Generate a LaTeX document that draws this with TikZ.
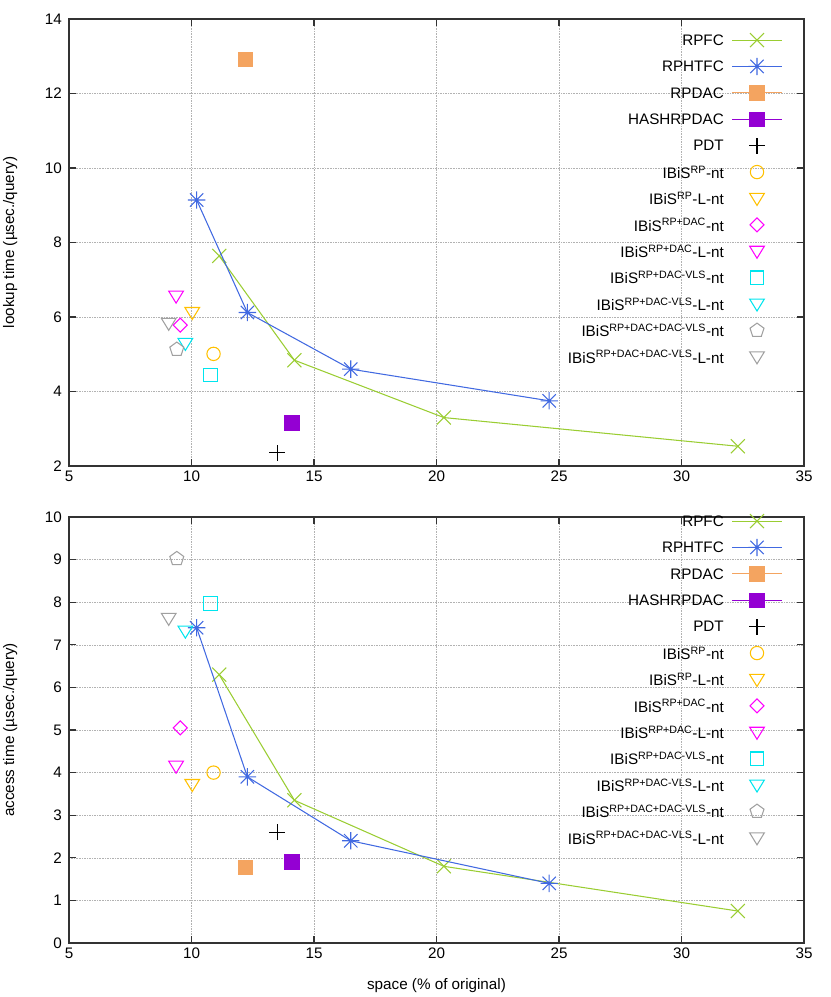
\documentclass[tikz,border=0pt]{standalone}
\usepackage{fontspec}
\setmainfont{Liberation Sans}
\usepackage{xcolor}
\usetikzlibrary{positioning}
\definecolor{cfc}{HTML}{9ACD32}
\definecolor{chtfc}{HTML}{4169E1}
\definecolor{cdac}{HTML}{F4A460}
\definecolor{chash}{HTML}{9400D3}
\definecolor{cgold}{HTML}{FFC000}
\definecolor{cmag}{HTML}{FF00FF}
\definecolor{ccyan}{HTML}{00E5EE}
\definecolor{cgray}{HTML}{A0A0A0}
\newcommand{\ssup}[1]{\textsuperscript{#1}}
%% legend (same in both panels), top y in cm
\newcommand{\keyblock}[1]{%
  \foreach \txt/\mk/\col/\haslin [count=\i] in {
      RPFC/mX/cfc/1, RPHTFC/mAst/chtfc/1, RPDAC/mSq/cdac/1, HASHRPDAC/mSq/chash/1,
      PDT/mPlus/black/0, IBiS\ssup{RP}-nt/mCirc/cgold/0, IBiS\ssup{RP}-L-nt/mTri/cgold/0,
      IBiS\ssup{RP+DAC}-nt/mDia/cmag/0, IBiS\ssup{RP+DAC}-L-nt/mTri/cmag/0,
      IBiS\ssup{RP+DAC-VLS}-nt/mSqO/ccyan/0, IBiS\ssup{RP+DAC-VLS}-L-nt/mTri/ccyan/0,
      IBiS\ssup{RP+DAC+DAC-VLS}-nt/mPent/cgray/0, IBiS\ssup{RP+DAC+DAC-VLS}-L-nt/mTri/cgray/0}{
    \node[anchor=east, inner sep=0pt] at (21.72,#1-0.792*\i) {\txt};
    \ifnum\haslin=1 \draw[\col, series] (21.96,#1-0.792*\i) -- (23.46,#1-0.792*\i); \fi
    \edef\tmpk{\noexpand\pic[\col] at (22.71,#1-0.792*\i) {\mk};}\tmpk
  }}
\begin{document}
\begin{tikzpicture}%
    [font=\fontsize{13}{15}\selectfont,
     grid/.style={gray!60, densely dotted, thin},
     frame/.style={black!80, line width=0.9pt},
     series/.style={line width=0.9pt},
     mX/.pic={\draw[line width=0.9pt] (-.21cm,-.21cm)--(.21cm,.21cm) (-.21cm,.21cm)--(.21cm,-.21cm);},
     mAst/.pic={\draw[line width=0.9pt] (-.2cm,-.2cm)--(.2cm,.2cm) (-.2cm,.2cm)--(.2cm,-.2cm) (-.26cm,0)--(.26cm,0) (0,-.26cm)--(0,.26cm);},
     mSq/.pic={\fill (-.23cm,-.23cm) rectangle (.23cm,.23cm);},
     mPlus/.pic={\draw[line width=0.9pt] (-.24cm,0)--(.24cm,0) (0,-.24cm)--(0,.24cm);},
     mCirc/.pic={\draw[line width=0.9pt] (0,0) circle (.2cm);},
     mTri/.pic={\draw[line width=0.9pt] (-.22cm,.15cm)--(.22cm,.15cm)--(0,-.21cm)--cycle;},
     mDia/.pic={\draw[line width=0.9pt] (-.21cm,0)--(0,.21cm)--(.21cm,0)--(0,-.21cm)--cycle;},
     mSqO/.pic={\draw[line width=0.9pt] (-.2cm,-.2cm) rectangle (.2cm,.2cm);},
     mPent/.pic={\draw[line width=0.9pt] (90:.22cm)--(162:.22cm)--(234:.22cm)--(306:.22cm)--(18:.22cm)--cycle;}]
\useasboundingbox (0,0) rectangle (24.9,29.91);
%% top panel: lookup time
\begin{scope}[shift={(-1.605,13.695)}, x=0.735cm, y=1.1175cm]
  \foreach \xv in {10,15,...,30} \draw[grid] (\xv,2) -- (\xv,14);
  \foreach \yv in {4,6,...,12} \draw[grid] (5,\yv) -- (35,\yv);
  \foreach \xv in {5,10,...,35} {
    \draw[frame] (\xv,2) -- ++(0,0.2cm) (\xv,14) -- ++(0,-0.2cm);
    \node[below=4pt, inner sep=0pt] at (\xv,2) {\xv};}
  \foreach \yv in {2,4,...,14} {
    \draw[frame] (5,\yv) -- ++(0.2cm,0) (35,\yv) -- ++(-0.2cm,0);
    \node[left=6pt, inner sep=0pt] at (5,\yv) {\yv};}
  \draw[frame] (5,2) rectangle (35,14);
  \node[rotate=90] at (2.6,8) {lookup time (µsec./query)};
  % series
  \draw[cfc, series] (11.13,7.64) -- (14.2,4.84) -- (20.3,3.3) -- (32.3,2.53);
  \foreach \p in {(11.13,7.64),(14.2,4.84),(20.3,3.3),(32.3,2.53)} \pic[cfc] at \p {mX};
  \draw[chtfc, series] (10.21,9.14) -- (12.28,6.12) -- (16.5,4.6) -- (24.6,3.75);
  \foreach \p in {(10.21,9.14),(12.28,6.12),(16.5,4.6),(24.6,3.75)} \pic[chtfc] at \p {mAst};
  \pic[cdac] at (12.2,12.92) {mSq};
  \pic[chash] at (14.1,3.15) {mSq};
  \pic[black] at (13.5,2.35) {mPlus};
  \pic[cgold] at (10.9,5.01) {mCirc};
  \pic[cgold] at (10.03,6.12) {mTri};
  \pic[cmag] at (9.54,5.78) {mDia};
  \pic[cmag] at (9.37,6.56) {mTri};
  \pic[ccyan] at (10.77,4.44) {mSqO};
  \pic[ccyan] at (9.75,5.29) {mTri};
  \pic[cgray] at (9.4,5.13) {mPent};
  \pic[cgray] at (9.07,5.83) {mTri};
\end{scope}
\keyblock{29.50}
%% bottom panel: access time
\begin{scope}[shift={(-1.605,1.62)}, x=0.735cm, y=1.278cm]
  \foreach \xv in {10,15,...,30} \draw[grid] (\xv,0) -- (\xv,10);
  \foreach \yv in {1,...,9} \draw[grid] (5,\yv) -- (35,\yv);
  \foreach \xv in {5,10,...,35} {
    \draw[frame] (\xv,0) -- ++(0,0.2cm) (\xv,10) -- ++(0,-0.2cm);
    \node[below=4pt, inner sep=0pt] at (\xv,0) {\xv};}
  \foreach \yv in {0,...,10} {
    \draw[frame] (5,\yv) -- ++(0.2cm,0) (35,\yv) -- ++(-0.2cm,0);
    \node[left=6pt, inner sep=0pt] at (5,\yv) {\yv};}
  \draw[frame] (5,0) rectangle (35,10);
  \node[rotate=90] at (2.6,5) {access time (µsec./query)};
  \node at (20,-1) {space (\% of original)};
  % series
  \draw[cfc, series] (11.13,6.3) -- (14.2,3.35) -- (20.3,1.8) -- (32.3,0.75);
  \foreach \p in {(11.13,6.3),(14.2,3.35),(20.3,1.8),(32.3,0.75)} \pic[cfc] at \p {mX};
  \draw[chtfc, series] (10.21,7.4) -- (12.28,3.9) -- (16.5,2.4) -- (24.6,1.4);
  \foreach \p in {(10.21,7.4),(12.28,3.9),(16.5,2.4),(24.6,1.4)} \pic[chtfc] at \p {mAst};
  \pic[cdac] at (12.2,1.78) {mSq};
  \pic[chash] at (14.1,1.9) {mSq};
  \pic[black] at (13.5,2.6) {mPlus};
  \pic[cgold] at (10.9,4.0) {mCirc};
  \pic[cgold] at (10.03,3.72) {mTri};
  \pic[cmag] at (9.54,5.05) {mDia};
  \pic[cmag] at (9.37,4.15) {mTri};
  \pic[ccyan] at (10.77,7.97) {mSqO};
  \pic[ccyan] at (9.75,7.32) {mTri};
  \pic[cgray] at (9.4,9.02) {mPent};
  \pic[cgray] at (9.07,7.62) {mTri};
\end{scope}
\keyblock{15.07}
\end{tikzpicture}
\end{document}
